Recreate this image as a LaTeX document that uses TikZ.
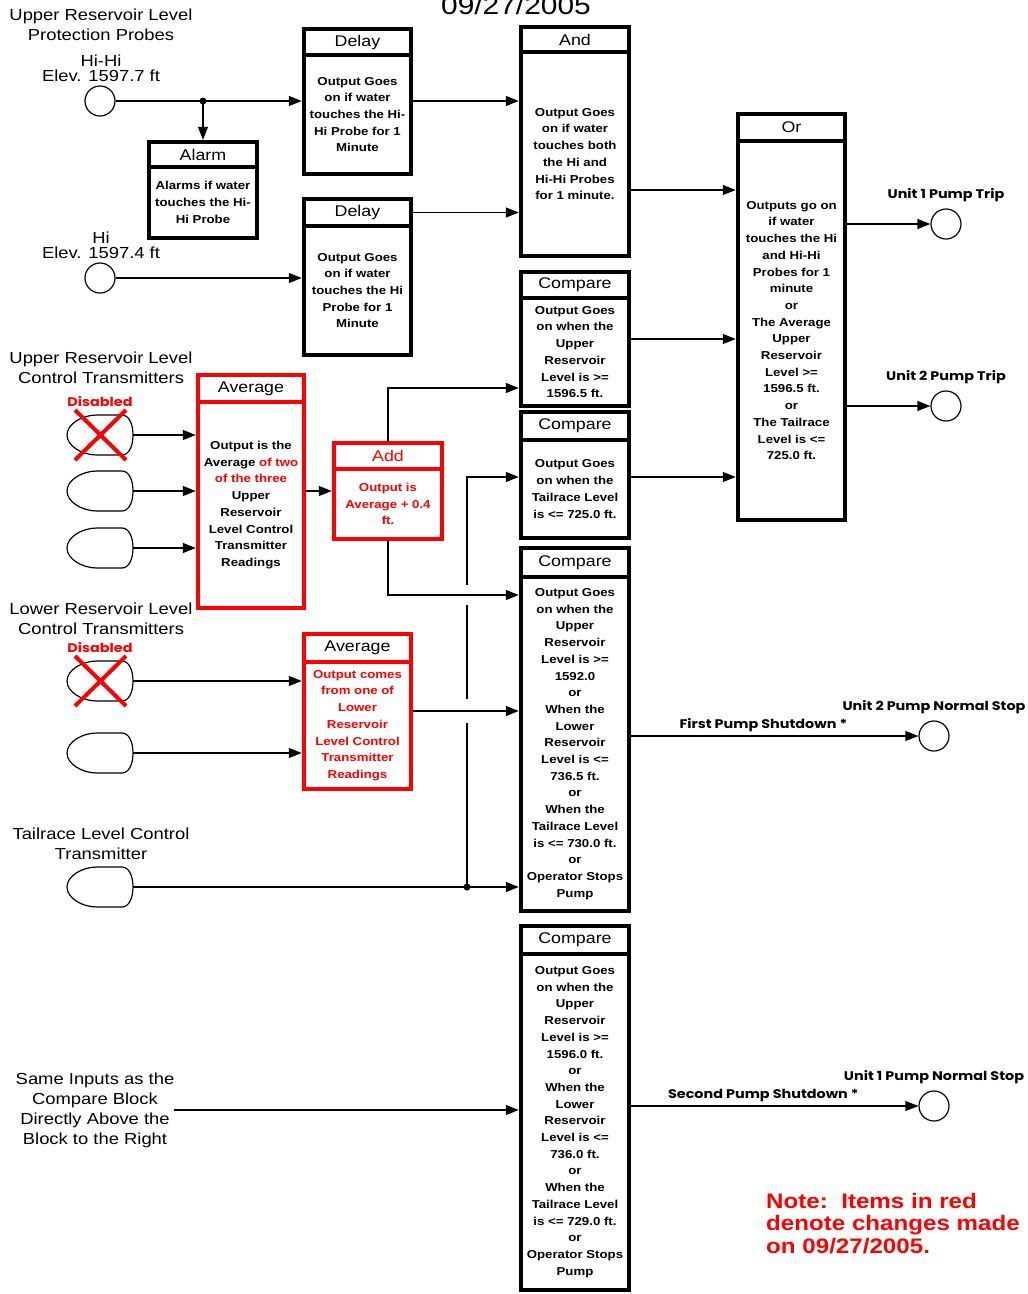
\documentclass[tikz,border=0pt]{standalone}
\usepackage{fontspec}
\setmainfont{Liberation Sans}[FakeStretch=1.15]
\newfontfamily\geofont{Poppins}[FakeStretch=1.15]
\usetikzlibrary{arrows.meta, positioning, calc}
\tikzset{
  blk head/.style={
    rectangle, draw=black, line width=4.5pt, fill=white,
    font=\fontsize{15.5}{17}\selectfont, inner sep=0pt
  },
  blk body/.style={
    rectangle, draw=black, line width=4.5pt, fill=white,
    align=center, font=\bfseries\fontsize{11.5}{16.7}\selectfont,
    inner sep=0pt
  },
  chg head/.style={blk head, draw=red},
  chg body/.style={blk body, draw=red},
  probe/.style={
    circle, draw=black, line width=1.2pt, minimum size=30pt, inner sep=0pt
  },
  xmtr/.style={
    rectangle, minimum width=66pt, minimum height=40pt,
    inner sep=0pt, outer sep=0pt
  },
  wire/.style={
    -{Triangle[length=13pt,width=10pt]}, line width=1.2pt, draw=black
  },
  lbl/.style={
    align=center, font=\fontsize{16}{20}\selectfont, inner sep=0pt
  },
  out lbl/.style={
    font=\geofont\bfseries\fontsize{12.5}{14}\selectfont, inner sep=0pt
  },
  cross/.style={draw=red, line width=4pt}
}

\begin{document}
\begin{tikzpicture}[x=1pt, y=-1pt]
\useasboundingbox (0,0) rectangle (1028,1294);
\fill[white] (0,0) rectangle (1028,1294);

% ====== title (cut at the top edge) ======
\node[anchor=base, font=\fontsize{26}{28}\selectfont] (date) at (516,14) {09/27/2005};

% ====== input labels ======
\node[lbl] (tprobe) at (101,25) {Upper Reservoir Level\\Protection Probes};
\node[lbl, font=\fontsize{16}{15}\selectfont] (thh) at (101,68) {Hi-Hi\\Elev. 1597.7 ft};
\node[lbl, font=\fontsize{16}{15}\selectfont] (thi) at (101,245) {Hi\\Elev. 1597.4 ft};
\node[lbl] (tup) at (101,368) {Upper Reservoir Level\\Control Transmitters};
\node[lbl] (tlo) at (101,619) {Lower Reservoir Level\\Control Transmitters};
\node[lbl] (ttr) at (101,844) {Tailrace Level Control\\Transmitter};
\node[lbl] (same) at (95,1110) {Same Inputs as the\\Compare Block\\Directly Above the\\Block to the Right};

% -- probes and transmitters --
\node[probe] (hh) at (100,101) {};
\node[probe] (hi) at (100,278) {};
\node[xmtr] (t1) at (100,435) {};
\node[xmtr] (t2) at (100,491) {};
\node[xmtr] (t3) at (100,548) {};
\node[xmtr] (l1) at (100,681) {};
\node[xmtr] (l2) at (100,753) {};
\node[xmtr] (tr) at (100,887) {};
\foreach \t in {t1,t2,t3,l1,l2,tr}
  \draw[line width=1.2pt, shift={(\t.center)}]
    (-33,0) .. controls (-33,-11) and (-18,-20) .. (-3,-20) -- (22,-20)
    .. controls (29,-20) and (33,-11) .. (33,0)
    .. controls (33,11) and (29,20) .. (22,20) -- (-3,20)
    .. controls (-18,20) and (-33,11) .. cycle;

% -- disabled transmitters --
\foreach \t in {t1,l1} {
  \node[out lbl, text=red, above=8pt of \t] {Disabled};
  \draw[cross] ($(\t.center)+(-25,-25)$) -- ($(\t.center)+(26,25)$);
  \draw[cross] ($(\t.center)+(26,-25)$) -- ($(\t.center)+(-25,25)$);
}

% ====== probe logic ======
\node[blk head, minimum width=107pt, minimum height=26pt] (d1h) at (357.5,42) {Delay};
\node[blk body, minimum width=107pt, minimum height=119pt, below=-4.5pt of d1h] (d1)
  {Output Goes\\on if water\\touches the Hi-\\Hi Probe for 1\\Minute};

\node[blk head, minimum width=107pt, minimum height=27pt] (d2h) at (357.5,212.5) {Delay};
\node[blk body, minimum width=107pt, minimum height=129pt, below=-4.5pt of d2h] (d2)
  {Output Goes\\on if water\\touches the Hi\\Probe for 1\\Minute};

\node[blk head, minimum width=108pt, minimum height=25pt] (alh) at (203,154.5) {Alarm};
\node[blk body, minimum width=108pt, minimum height=71pt, below=-4.5pt of alh] (al)
  {Alarms if water\\touches the Hi-\\Hi Probe};

\node[blk head, minimum width=108pt, minimum height=25pt] (andh) at (575,39.5) {And};
\node[blk body, minimum width=108pt, minimum height=204pt, below=-4.5pt of andh] (and)
  {Output Goes\\on if water\\touches both\\the Hi and\\Hi-Hi Probes\\for 1 minute.};

\node[blk head, minimum width=107pt, minimum height=27pt] (orh) at (791.5,127.5) {Or};
\node[blk body, minimum width=107pt, minimum height=379pt, below=-4.5pt of orh] (or)
  {Outputs go on\\if water\\touches the Hi\\and Hi-Hi\\Probes for 1\\minute\\or\\The Average\\Upper\\Reservoir\\Level >=\\1596.5 ft.\\or\\The Tailrace\\Level is <=\\725.0 ft.};

% ====== transmitter logic (changed blocks in red) ======
\node[chg head, minimum width=106pt, minimum height=27pt] (avg1h) at (251,388.5) {Average};
\node[chg body, minimum width=106pt, minimum height=206pt, below=-4.5pt of avg1h] (avg1)
  {Output is the\\Average \textcolor{red}{of two}\\\textcolor{red}{of the three}\\Upper\\Reservoir\\Level Control\\Transmitter\\Readings};

\node[chg head, text=red, minimum width=108pt, minimum height=26pt] (addh) at (388,456) {Add};
\node[chg body, text=red, minimum width=108pt, minimum height=70pt, below=-4.5pt of addh] (add)
  {Output is\\Average + 0.4\\ft.};

\node[chg head, minimum width=107pt, minimum height=28pt] (avg2h) at (357.5,648) {Average};
\node[chg body, text=red, minimum width=107pt, minimum height=127pt, below=-4.5pt of avg2h] (avg2)
  {Output comes\\from one of\\Lower\\Reservoir\\Level Control\\Transmitter\\Readings};

% -- compare blocks --
\node[blk head, minimum width=108pt, minimum height=26pt] (c1h) at (575,285) {Compare};
\node[blk body, minimum width=108pt, minimum height=108pt, below=-4.5pt of c1h] (c1)
  {Output Goes\\on when the\\Upper\\Reservoir\\Level is >=\\1596.5 ft.};

\node[blk head, minimum width=108pt, minimum height=28pt] (c2h) at (575,426) {Compare};
\node[blk body, minimum width=108pt, minimum height=98pt, below=-4.5pt of c2h] (c2)
  {Output Goes\\on when the\\Tailrace Level\\is <= 725.0 ft.};

\node[blk head, minimum width=108pt, minimum height=29pt] (c3h) at (575,562.5) {Compare};
\node[blk body, minimum width=108pt, minimum height=334pt, below=-4.5pt of c3h] (c3)
  {Output Goes\\on when the\\Upper\\Reservoir\\Level is >=\\1592.0\\or\\When the\\Lower\\Reservoir\\Level is <=\\736.5 ft.\\or\\When the\\Tailrace Level\\is <= 730.0 ft.\\or\\Operator Stops\\Pump};

\node[blk head, minimum width=108pt, minimum height=28pt] (c4h) at (575,940) {Compare};
\node[blk body, minimum width=108pt, minimum height=336pt, below=-4.5pt of c4h] (c4)
  {Output Goes\\on when the\\Upper\\Reservoir\\Level is >=\\1596.0 ft.\\or\\When the\\Lower\\Reservoir\\Level is <=\\736.0 ft.\\or\\When the\\Tailrace Level\\is <= 729.0 ft.\\or\\Operator Stops\\Pump};

% ====== outputs ======
\node[probe] (u1t) at (946,224) {};
\node[probe] (u2t) at (946,406) {};
\node[probe] (u2s) at (934,736) {};
\node[probe] (u1s) at (934,1106) {};
\node[out lbl, above=6pt of u1t] {Unit 1 Pump Trip};
\node[out lbl, above=6pt of u2t] {Unit 2 Pump Trip};
\node[out lbl, above=6pt of u2s] {Unit 2 Pump Normal Stop};
\node[out lbl, above=6pt of u1s] {Unit 1 Pump Normal Stop};

% ====== wiring ======
\coordinate (yAnd) at (0,190);
\coordinate (yC1) at (0,339);
\coordinate (yAdd) at (0,388);
\coordinate (yC2) at (0,477);
\coordinate (yC3) at (0,595);
\coordinate (yAvg) at (0,711);
\coordinate (jA) at (203,101);
\coordinate (jT) at (467,887);

\draw[wire] (hh) -- (d1.west |- hh);
\fill (jA) circle (3.5pt);
\draw[wire] (jA) -- (alh.north);
\draw[wire] (hi) -- (d2.west |- hi);
\draw[wire] (d1.east |- hh) -- (and.west |- hh);
\draw[wire] (d2h.east) -- (and.west |- d2h.east);
\draw[wire] (and.east |- yAnd) -- (or.west |- yAnd);
\draw[wire] (c1.east |- yC1) -- (or.west |- yC1);
\draw[wire] (c2.east |- yC2) -- (or.west |- yC2);
\draw[wire] (or.east |- u1t) -- (u1t);
\draw[wire] (or.east |- u2t) -- (u2t);

\foreach \t in {t1,t2,t3}
  \draw[wire] (\t) -- (avg1.west |- \t);
\draw[wire] (avg1.east |- t2) -- (add.west |- t2);
\draw[wire] (addh.north) |- (c1.west |- yAdd);
\draw[wire] (add.south) |- (c3.west |- yC3);
\foreach \t in {l1,l2}
  \draw[wire] (\t) -- (avg2.west |- \t);
\draw[wire] (avg2.east |- yAvg) -- (c3.west |- yAvg);

% tailrace line hops over the two crossings
\draw[wire] (tr) -- (c3.west |- tr);
\fill (jT) circle (3.5pt);
\draw[line width=1.2pt] (jT) -- ($(jT |- yAvg)+(0,12)$);
\draw[line width=1.2pt] ($(jT |- yAvg)+(0,-12)$) -- ($(jT |- yC3)+(0,10)$);
\draw[wire] ($(jT |- yC3)+(0,-10)$) -- (jT |- yC2) -- (c2.west |- yC2);

\draw[wire] (c3.east |- u2s) -- node[out lbl, pos=0.46, above=4pt] {First Pump Shutdown *} (u2s);
\draw[wire] (same.east) -- (c4.west |- same.east);
\draw[wire] (c4.east |- u1s) -- node[out lbl, pos=0.46, above=4pt] {Second Pump Shutdown *} (u1s);

% ====== note ======
\node[anchor=north west, align=left, text=red, inner sep=0pt,
  font=\bfseries\fontsize{21}{22.5}\selectfont] (note) at (766,1193)
  {Note:\ \ Items in red\\denote changes made\\on 09/27/2005.};

\end{tikzpicture}
\end{document}
